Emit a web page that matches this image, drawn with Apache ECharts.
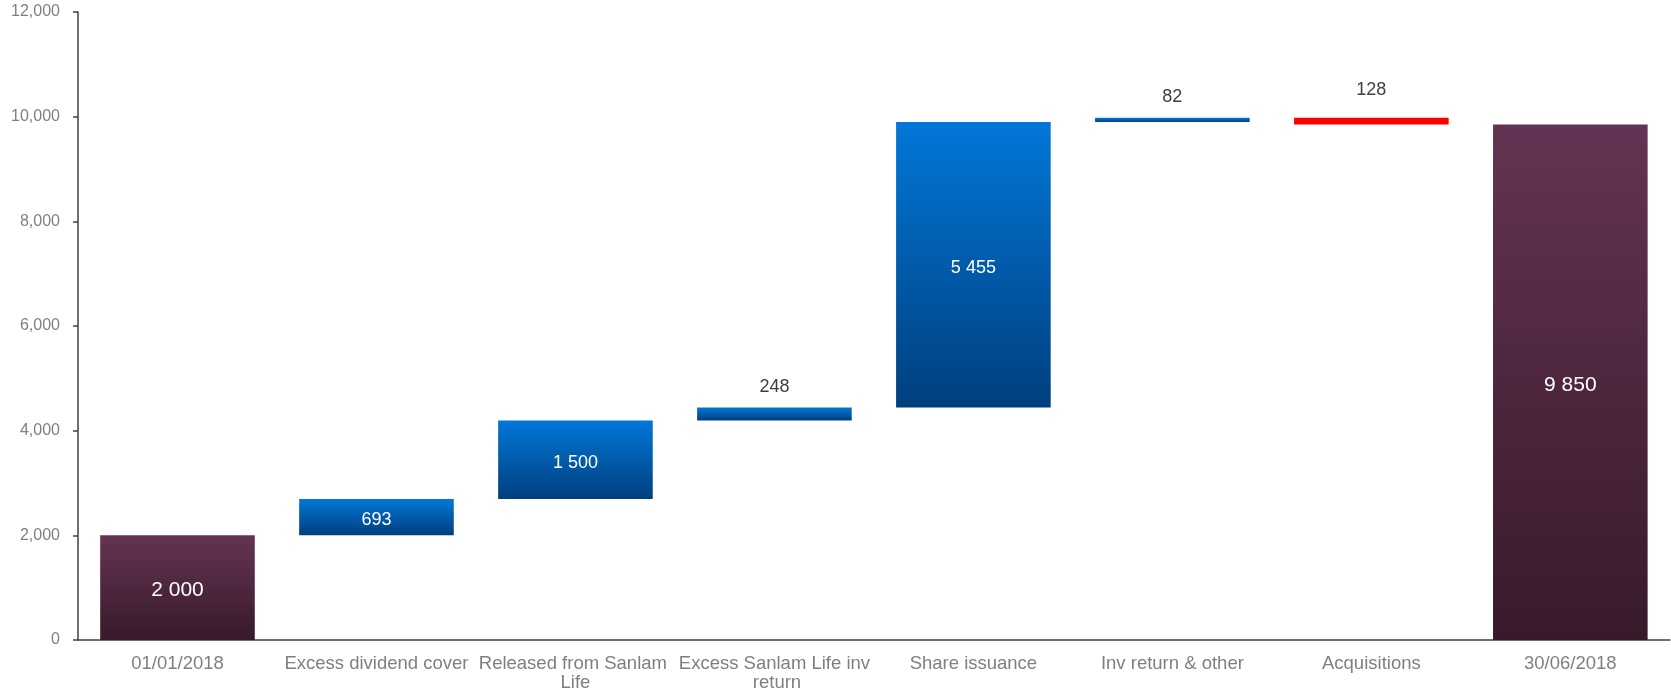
<!DOCTYPE html>
<html>
<head>
<meta charset="utf-8">
<script src="https://cdn.jsdelivr.net/npm/echarts@6/dist/echarts.min.js"></script>
<style>
  html, body { margin: 0; padding: 0; background: #fff; }
  #chart { width: 1671px; height: 693px; }
</style>
</head>
<body>
<div id="chart"></div>
<script>
// waterfall data
var categories = ['01/01/2018', 'Excess dividend cover', 'Released from Sanlam Life',
  'Excess Sanlam Life inv return', 'Share issuance', 'Inv return & other', 'Acquisitions', '30/06/2018'];
var values = [2000, 693, 1500, 248, 5455, 82, -128, 9850];
var kinds = ['total', 'up', 'up', 'up', 'up', 'up', 'down', 'total'];
var yTicks = [0, 2000, 4000, 6000, 8000, 10000, 12000];

function grad(top, bottom) {
  return {type: 'linear', x: 0, y: 0, x2: 0, y2: 1,
    colorStops: [{offset: 0, color: top}, {offset: 1, color: bottom}]};
}
var purple = grad('#643353', '#381a2b');
var blue = grad('#0277d8', '#003f7e');

function fmt(v) {
  return String(Math.abs(v)).replace(/\B(?=(\d{3})+(?!\d))/g, ' ');
}

var baseData = [];
var barData = [];
var running = 0;
values.forEach(function (v, i) {
  var k = kinds[i];
  var base, h, color;
  if (k === 'total') {
    base = 0; h = v; running = v; color = purple;
  } else if (v >= 0) {
    base = running; h = v; running += v; color = blue;
  } else {
    running += v; base = running; h = -v; color = '#ff0000';
  }
  baseData.push(base);
  var small = h < 400;
  barData.push({
    value: h,
    itemStyle: {color: color},
    label: small ? {
      position: 'top', color: '#404040', fontSize: 18,
      distance: v < 0 ? 19 : 12
    } : {
      position: 'inside', color: '#ffffff', fontSize: k === 'total' ? 21 : 18,
      offset: [0, 3]
    }
  });
});

var chart = echarts.init(document.getElementById('chart'), null, {renderer: 'canvas'});
chart.setOption({
  animation: false,
  textStyle: {fontFamily: 'Liberation Sans, Arial, sans-serif'},
  grid: {left: 78, width: 1597, top: 12, bottom: 53, containLabel: false},
  xAxis: {
    type: 'category',
    data: categories,
    axisLine: {lineStyle: {color: '#404040', width: 1.5}},
    axisTick: {show: false},
    axisLabel: {
      interval: 0, color: '#7f7f7f', fontSize: 18.5, margin: 14,
      width: 196, overflow: 'break', lineHeight: 19
    }
  },
  yAxis: {
    type: 'value',
    min: yTicks[0],
    max: yTicks[yTicks.length - 1],
    interval: 2000,
    axisLine: {show: true, lineStyle: {color: '#404040', width: 1.5}},
    axisTick: {show: true, length: 5, lineStyle: {color: '#404040', width: 1.5}},
    splitLine: {show: false},
    axisLabel: {
      color: '#7f7f7f', fontSize: 16, margin: 18,
      formatter: function (v) { return v.toLocaleString('en-US'); }
    }
  },
  series: [{
    type: 'bar',
    stack: 'w',
    data: baseData,
    barWidth: '77.7%',
    itemStyle: {color: 'transparent'},
    silent: true
  }, {
    type: 'bar',
    stack: 'w',
    data: barData,
    barWidth: '77.7%',
    label: {
      show: true,
      formatter: function (p) { return fmt(values[p.dataIndex]); }
    }
  }]
});
</script>
</body>
</html>
